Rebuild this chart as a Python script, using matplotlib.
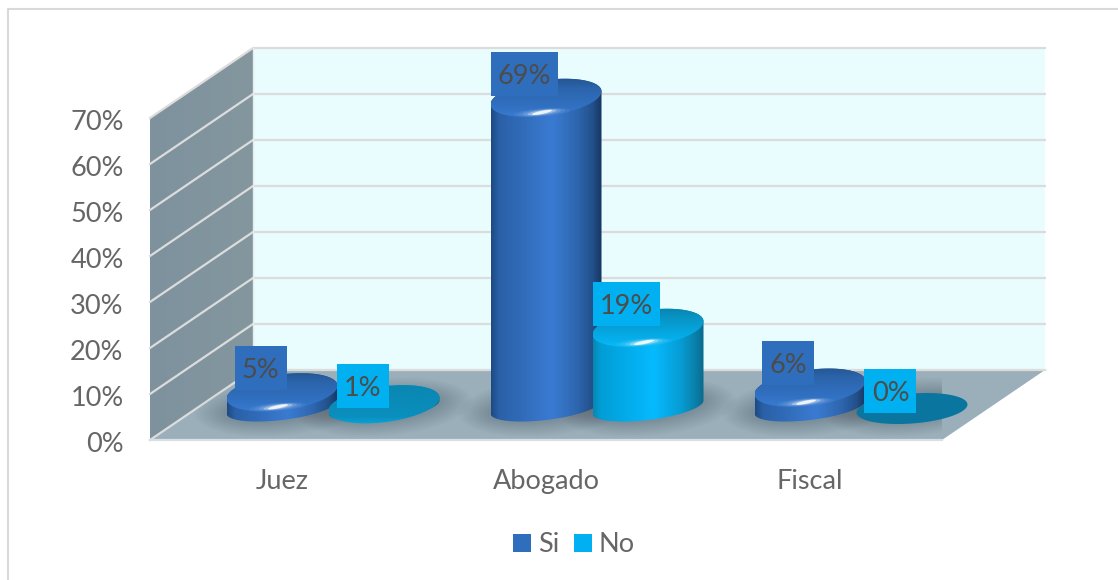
import numpy as np
import matplotlib
matplotlib.use("Agg")
import matplotlib.pyplot as plt
from matplotlib.colors import LinearSegmentedColormap
from matplotlib.lines import Line2D
from matplotlib.patches import Patch, Polygon, Rectangle
from matplotlib.transforms import ScaledTranslation

# Data
categories = ["Juez", "Abogado", "Fiscal"]
serie_si = [5, 69, 6]
serie_no = [1, 19, 0]
yticks = [0, 10, 20, 30, 40, 50, 60, 70]
ylabels = ["0%", "10%", "20%", "30%", "40%", "50%", "60%", "70%"]

plt.rcParams["font.family"] = ["Lato", "DejaVu Sans"]

W, H = 1118, 580
fig = plt.figure(figsize=(W / 100, H / 100), dpi=100, facecolor="white")
# axes box = front edge of the 3D floor and front edge of the left wall
ax = fig.add_axes([150 / W, (H - 440) / H, 792 / W, 322 / H])

PX_X = 792 / 3   # pixels per category
PX_Y = 322 / 70  # pixels per percent
DX = 103 / PX_X  # depth of the 3D box
DY = 70 / PX_Y
BASE = 33 / PX_Y  # floor height of the cylinders' centres
A = 55.5 / PX_X
B = 18 / PX_Y
B_BASE = 13 / PX_Y
TILT = 6.5 / PX_Y
FS = 19.5


def ellipse(cx, cy, a=A, b=B, s=TILT, t0=0, t1=2 * np.pi, n=80):
    t = np.linspace(t0, t1, n)
    return np.column_stack([cx + a * np.cos(t), cy + b * np.sin(t) + s * np.cos(t)])


def gradient(stops, extent, clip, z, horizontal=True):
    cmap = LinearSegmentedColormap.from_list("g", stops)
    g = np.linspace(0, 1, 256)
    g = g[None, :] if horizontal else g[:, None]
    im = ax.imshow(g, extent=extent, cmap=cmap, aspect="auto", origin="lower", zorder=z)
    patch = Polygon(clip, closed=True, transform=ax.transData)
    im.set_clip_path(patch)
    im.set_clip_box(fig.bbox)


# box
left_wall = [(0, 0), (DX, DY), (DX, 70 + DY), (0, 70)]
back_wall = [(DX, DY), (3 + DX, DY), (3 + DX, 70 + DY), (DX, 70 + DY)]
floor = [(0, 0), (3, 0), (3 + DX, DY), (DX, DY)]
ax.add_patch(Polygon(back_wall, fc="#e9fcfe", ec="none", clip_on=False, zorder=1))
gradient([(0, "#7e929e"), (1, "#84979f")], [0, DX, 0, 70 + DY], left_wall, 1)
floor_patch = Polygon(floor, fc="#9bafbb", ec="none", clip_on=False, zorder=2)
ax.add_patch(floor_patch)
for v in yticks:
    ax.plot([0, DX, 3 + DX], [v, v + DY, v + DY], color="#dcdcdc", lw=1.6, clip_on=False, zorder=3)
ax.plot([0, 3], [0, 0], color="#d9dfe3", lw=1.6, clip_on=False, zorder=3)
ax.plot([DX, DX], [DY, 70 + DY], color="#e4eced", lw=1, clip_on=False, zorder=3)

# shadows on the floor
si_x = [i + 0.5 for i in range(len(categories))]
no_x = [x + 102 / PX_X for x in si_x]
for x in si_x + no_x:
    for k in range(12):
        f = k / 11
        poly = Polygon(ellipse(x, BASE, A + (1 - f) * 32 / PX_X, B_BASE + (1 - f) * 16 / PX_Y),
                       fc="black", ec="none", alpha=0.016, zorder=4)
        ax.add_patch(poly)
        poly.set_clip_path(floor_patch)

# cylinders
si_style = dict(
    body=[(0, "#1d4a84"), (0.07, "#2a60a6"), (0.55, "#3a7bd2"), (0.78, "#2e66ae"), (0.92, "#234f8a"), (1, "#163660")],
    cap=[(0, "#3a7dd2"), (0.3, "#3170c2"), (0.75, "#2b64aa"), (1, "#23538c")],
)
no_style = dict(
    body=[(0, "#0a86b2"), (0.07, "#019ed6"), (0.55, "#06baff"), (0.8, "#069bd2"), (0.93, "#0a7ea8"), (1, "#0a6a8c")],
    cap=[(0, "#0abcf8"), (0.3, "#04ace8"), (0.75, "#0894c4"), (1, "#0a82ac")],
)


def cylinder(x, value, style, z):
    if value == 0:
        ax.add_patch(Polygon(ellipse(x, BASE - 1.5 / PX_Y, b=15 / PX_Y, s=4 / PX_Y), fc="#0a76a0", ec="none",
                             clip_on=False, zorder=z))
        return
    top = BASE + max(value - 1.8, 0.6)
    front = ellipse(x, BASE, b=B_BASE, t0=np.pi, t1=2 * np.pi)
    back = ellipse(x, top, t0=0, t1=np.pi)
    ext = [x - A, x + A, BASE - 2 * B, top + 2 * B]
    gradient(style["body"], ext, np.vstack([front, back]), z)
    cap = ellipse(x, top)
    if value == 1:
        cap_stops = [(0, "#06a6dc"), (0.2, "#0a8fbe"), (1, "#0a86b0")]
    else:
        cap_stops = style["cap"]
    gradient(cap_stops, [x - A, x + A, top - 1.15 * B, top + 1.15 * B], cap, z + 0.1, horizontal=False)
    if value > 1:
        hx, hy = x - 4 / PX_X, top - 14.5 / PX_Y
        for k, al in zip(range(5), [0.05, 0.08, 0.15, 0.35, 0.85]):
            ax.add_patch(Polygon(ellipse(hx, hy, (28 - 4.5 * k) / PX_X, (4 - 0.6 * k) / PX_Y, 2 / PX_Y),
                                 fc="white", ec="none", alpha=al, clip_on=False, zorder=z + 0.2))


for x, v in zip(si_x, serie_si):
    cylinder(x, v, si_style, 5)
for x, v in zip(no_x, serie_no):
    cylinder(x, v, no_style, 6)

# data labels
for xs, vals, col in [(si_x, serie_si, "#2f6dbd"), (no_x, serie_no, "#00b0f0")]:
    for x, v in zip(xs, vals):
        lx, ly = x - 21.5 / PX_X, BASE + v + 3.5
        txt = f"{v}%"
        w = (67 if len(txt) == 3 else 52) / PX_X
        h = 44 / PX_Y
        ax.add_patch(Rectangle((lx - w / 2, ly - h / 2), w, h, fc=col, ec="none", clip_on=False, zorder=8))
        ax.text(lx, ly - 2.5 / PX_Y, txt, ha="center", va="center", fontsize=FS, color="#4c4c4c",
                zorder=9, clip_on=False)

ax.set_xlim(0, 3)
ax.set_ylim(0, 70)
ax.set_xticks(si_x, categories)
ax.set_yticks(yticks, ylabels)
ax.tick_params(length=0, labelsize=FS, labelcolor="#666666")
ax.tick_params(axis="x", pad=21)
ax.tick_params(axis="y", pad=19)
shift = ScaledTranslation(0, -4 / 100, fig.dpi_scale_trans)
for lab in ax.get_yticklabels():
    lab.set_verticalalignment("center")
    lab.set_transform(lab.get_transform() + shift)
for sp in ax.spines.values():
    sp.set_visible(False)
ax.patch.set_visible(False)

fig.legend(handles=[Patch(fc="#2f6dbd", label="Si"), Patch(fc="#00b0f0", label="No")],
           loc="center", bbox_to_anchor=(574 / W, 1 - 545 / H), ncol=2, frameon=False,
           fontsize=FS, labelcolor="#666666", handlelength=0.67, handleheight=0.67,
           handletextpad=0.25, columnspacing=0.55)

# chart frame
fig.add_artist(Line2D([8 / W, 8 / W, 1], [0, 1 - 9 / H, 1 - 9 / H], color="#d9d9d9", lw=1.5))

fig.savefig("out.png", dpi=100)
